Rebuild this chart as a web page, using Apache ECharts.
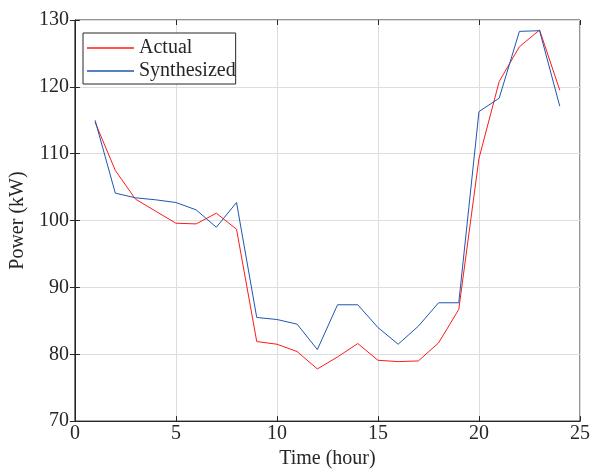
<!DOCTYPE html>
<html>
<head>
<meta charset="utf-8">
<script src="https://cdn.jsdelivr.net/npm/echarts@6/dist/echarts.min.js"></script>
<style>
  html, body { margin: 0; padding: 0; background: #fff; }
  #chart { width: 593px; height: 474px; }
</style>
</head>
<body>
<div id="chart"></div>
<script>
// Hourly power profile: measured vs. synthesized
const hours = [1, 2, 3, 4, 5, 6, 7, 8, 9, 10, 11, 12, 13, 14, 15, 16, 17, 18, 19, 20, 21, 22, 23, 24];
const actual = [114.7, 107.5, 103.2, 101.4, 99.6, 99.5, 101.1, 98.7, 81.9, 81.5, 80.4, 77.8,
                79.6, 81.6, 79.1, 78.9, 79.0, 81.7, 86.7, 109.3, 120.8, 126.0, 128.5, 119.5];
const synthesized = [115.0, 104.1, 103.4, 103.1, 102.7, 101.6, 99.0, 102.7, 85.5, 85.2, 84.5, 80.7,
                     87.4, 87.4, 84.0, 81.5, 84.2, 87.7, 87.7, 116.3, 118.3, 128.3, 128.4, 117.1];
const seriesNames = ['Actual', 'Synthesized'];
const xTitle = 'Time (hour)';
const yTitle = 'Power (kW)';

const FONT = '"Liberation Serif", "Times New Roman", serif';
const INK = '#262626';

const pairs = (ys) => hours.map((h, i) => [h, ys[i]]);

const chart = echarts.init(document.getElementById('chart'), null, { renderer: 'canvas' });

const hiddenAxis = {
  axisLine: { show: false },
  axisTick: { show: true, inside: true, length: 5, lineStyle: { color: INK } },
  axisLabel: { show: false },
  splitLine: { show: false }
};

chart.setOption({
  animation: false,
  backgroundColor: '#ffffff',
  grid: {
    left: 70, right: 11, top: 20, bottom: 49,
    show: true, borderColor: INK, borderWidth: 1, backgroundColor: 'transparent'
  },
  legend: {
    orient: 'vertical',
    left: 83, top: 33,
    data: seriesNames,
    icon: 'rect',
    itemWidth: 47, itemHeight: 1.5,
    itemGap: 3,
    padding: [5, 0, 3, 4],
    borderColor: INK, borderWidth: 1,
    backgroundColor: '#ffffff',
    textStyle: { fontFamily: FONT, fontSize: 20, color: INK }
  },
  xAxis: [{
    type: 'value', min: 0, max: 25, interval: 5,
    name: xTitle, nameLocation: 'middle', nameGap: 27,
    nameTextStyle: { fontFamily: FONT, fontSize: 20, color: INK },
    axisLine: { show: true, lineStyle: { color: INK } },
    axisTick: { show: true, inside: true, length: 5, lineStyle: { color: INK } },
    axisLabel: { fontFamily: FONT, fontSize: 20, color: INK, margin: 3 },
    splitLine: { show: true, lineStyle: { color: '#dedede', width: 1 } }
  }, Object.assign({ type: 'value', min: 0, max: 25, interval: 5, position: 'top' }, hiddenAxis)],
  yAxis: [{
    type: 'value', min: 70, max: 130, interval: 10,
    name: yTitle, nameLocation: 'middle', nameGap: 40,
    nameTextStyle: { fontFamily: FONT, fontSize: 20, color: INK },
    axisLine: { show: true, lineStyle: { color: INK } },
    axisTick: { show: true, inside: true, length: 5, lineStyle: { color: INK } },
    axisLabel: { fontFamily: FONT, fontSize: 20, color: INK, margin: 6 },
    splitLine: { show: true, lineStyle: { color: '#dedede', width: 1 } }
  }, Object.assign({ type: 'value', min: 70, max: 130, interval: 10, position: 'right' }, hiddenAxis)],
  series: [
    {
      name: seriesNames[0], type: 'line', data: pairs(actual),
      showSymbol: false, symbol: 'none',
      itemStyle: { color: '#ff1a1a' },
      lineStyle: { color: '#ff1a1a', width: 1 }
    },
    {
      name: seriesNames[1], type: 'line', data: pairs(synthesized),
      showSymbol: false, symbol: 'none',
      itemStyle: { color: '#1f56b0' },
      lineStyle: { color: '#1f56b0', width: 1 }
    }
  ]
});
</script>
</body>
</html>
